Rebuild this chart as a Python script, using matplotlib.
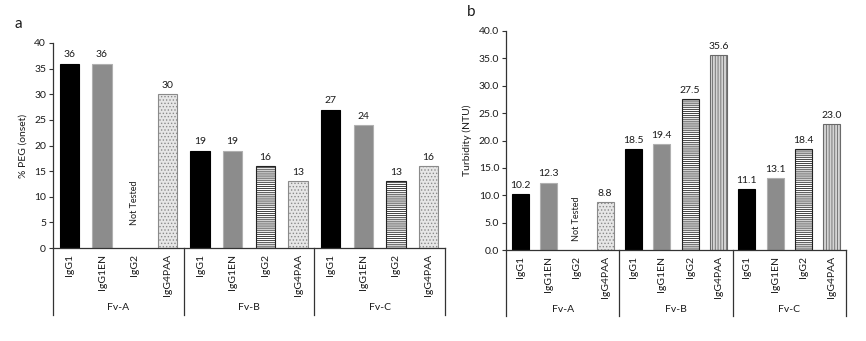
"""Two-panel bar chart: PEG onset (a) and turbidity (b) per Fv / IgG format."""

import matplotlib

matplotlib.use("Agg")
import matplotlib.pyplot as plt
import matplotlib.transforms as mtransforms
import numpy as np

plt.rcParams["font.family"] = ["Lato", "DejaVu Sans"]
plt.rcParams["hatch.linewidth"] = 0.6

# ---------------------------------------------------------------------------
# Data
# ---------------------------------------------------------------------------

groups = ["Fv-A", "Fv-B", "Fv-C"]
formats = ["IgG1", "IgG1EN", "IgG2", "IgG4PAA"]

# None = not tested
peg_onset = [
    [36, 36, None, 30],
    [19, 19, 16, 13],
    [27, 24, 13, 16],
]
turbidity = [
    [10.2, 12.3, None, 8.8],
    [18.5, 19.4, 27.5, 35.6],
    [11.1, 13.1, 18.4, 23.0],
]

peg_ticks = [0, 5, 10, 15, 20, 25, 30, 35, 40]
turb_ticks = [0, 5, 10, 15, 20, 25, 30, 35, 40]

# ---------------------------------------------------------------------------
# Styles
# ---------------------------------------------------------------------------

STYLE = {
    "IgG1": dict(facecolor="black", edgecolor="black", hatch=None),
    "IgG1EN": dict(facecolor="#8c8c8c", edgecolor="#b0b0b0", hatch=None),
    "IgG2": dict(facecolor="white", edgecolor="#222222", hatch="--------"),
    "dots": dict(facecolor="#e6e6e6", edgecolor="#8a8a8a", hatch="....."),
    "vlines": dict(facecolor="#d4d4d4", edgecolor="#6a6a6a", hatch="||||||"),
}
AXIS_COLOR = "#333333"
TEXT_COLOR = "#1a1a1a"


def _style_for(fmt, panel, group_idx):
    if fmt == "IgG4PAA":
        if panel == "b" and group_idx > 0:
            return STYLE["vlines"]
        return STYLE["dots"]
    return STYLE[fmt]


def _draw_panel(fig, rect, values, ticks, fmt_label, ylabel, letter, panel,
                nt_y, label_y, group_y, bottom_y):
    ax = fig.add_axes(rect)
    n_fmt = len(formats)
    x = np.arange(len(groups) * n_fmt)

    for gi, row in enumerate(values):
        for fi, val in enumerate(row):
            xi = gi * n_fmt + fi
            if val is None:
                ax.text(xi, nt_y, "Not Tested", rotation=90, ha="center",
                        va="center", fontsize=6.5, color=TEXT_COLOR)
                continue
            st = _style_for(formats[fi], panel, gi)
            ax.bar(xi, val, width=0.6, facecolor=st["facecolor"],
                   edgecolor=st["edgecolor"], hatch=st["hatch"], linewidth=0.8)
            ax.annotate(fmt_label.format(val), (xi, val), xytext=(0, 3),
                        textcoords="offset points", ha="center", va="bottom",
                        fontsize=7.5, color=TEXT_COLOR)

    ax.set_xlim(-0.5, len(x) - 0.5)
    ax.set_ylim(ticks[0], ticks[-1])
    ax.set_yticks(ticks)
    ax.set_yticklabels([fmt_label.format(t) for t in ticks], fontsize=7.5,
                       color=TEXT_COLOR)
    ax.set_xticks([])
    ax.tick_params(axis="y", direction="out", length=3, width=0.8,
                   color=AXIS_COLOR, pad=2)
    ax.set_ylabel(ylabel, fontsize=7.5, color=TEXT_COLOR, labelpad=5)
    for side in ("top", "right"):
        ax.spines[side].set_visible(False)
    for side in ("left", "bottom"):
        ax.spines[side].set_color(AXIS_COLOR)
        ax.spines[side].set_linewidth(0.9)

    # multi-level category axis below the plot
    trans = mtransforms.blended_transform_factory(ax.transData, fig.transFigure)
    for xi in x:
        ax.text(xi, label_y, formats[xi % n_fmt], rotation=90, ha="center",
                va="top", fontsize=7.5, color=TEXT_COLOR, transform=trans)
    for gi, name in enumerate(groups):
        ax.text(gi * n_fmt + (n_fmt - 1) / 2, group_y, name, ha="center",
                va="center", fontsize=7.5, color=TEXT_COLOR, transform=trans)
    zero_y = rect[1]
    for gi in range(len(groups) + 1):
        xb = gi * n_fmt - 0.5
        ax.plot([xb, xb], [zero_y, bottom_y], color=AXIS_COLOR, lw=0.9,
                transform=trans, clip_on=False)

    fig.text(rect[0] - 0.045, rect[1] + rect[3] + 0.035, letter, fontsize=11,
             color=TEXT_COLOR, ha="left", va="bottom")
    return ax


def main():
    fig = plt.figure(figsize=(8.66, 3.41), dpi=100)

    _draw_panel(fig, [53 / 866, 1 - 248 / 341, 392 / 866, 205 / 341],
                peg_onset, peg_ticks, "{:.0f}", "% PEG (onset)", "a", "a",
                nt_y=8.8, label_y=1 - 254 / 341, group_y=1 - 308 / 341,
                bottom_y=1 - 315 / 341)
    _draw_panel(fig, [506 / 866, 1 - 250 / 341, 340 / 866, 219 / 341],
                turbidity, turb_ticks, "{:.1f}", "Turbidity (NTU)", "b", "b",
                nt_y=5.7, label_y=1 - 256 / 341, group_y=1 - 310 / 341,
                bottom_y=1 - 316 / 341)

    fig.savefig("out.png", dpi=100)
    plt.close(fig)


if __name__ == "__main__":
    main()
